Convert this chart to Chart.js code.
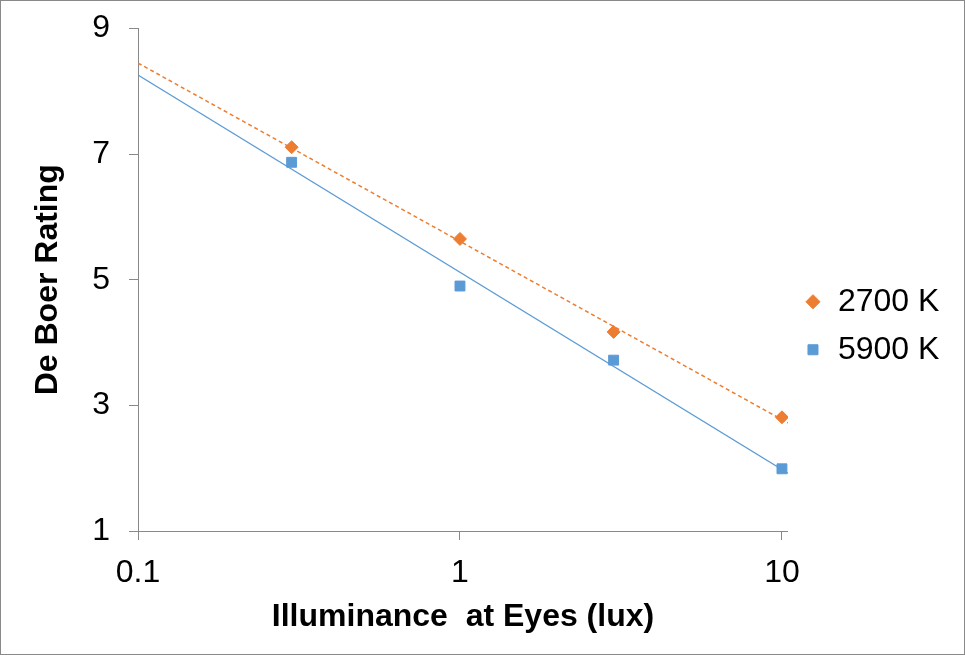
<!DOCTYPE html>
<html>
<head>
<meta charset="utf-8">
<script src="https://cdn.jsdelivr.net/npm/chart.js@4/dist/chart.umd.min.js"></script>
<style>
  html, body { margin: 0; padding: 0; background: #fff; }
  #box { width: 965px; height: 655px; border: 1px solid #898989; box-sizing: border-box; }
</style>
</head>
<body>
<div id="box"><canvas id="myChart"></canvas></div>
<script>
// illuminance (lux) and De Boer ratings
let illuminance = [0.3, 1, 3, 10];
let rating2700 = [7.11, 5.65, 4.17, 2.81];
let rating5900 = [6.87, 4.90, 3.72, 1.99];

// log trendlines, ends read at the plot edges
let trendX = [0.1, 10.44];
let trend2700 = [8.45, 2.72];
let trend5900 = [8.26, 1.92];

let xTicks = [0.1, 1, 10];
let yTicks = [1, 3, 5, 7, 9];

let orange = "#ED7D31";
let blue = "#5B9BD5";
let axisGray = "#898989";
let fontName = "'Liberation Sans', Arial, sans-serif";

function toPoints(xs, ys) {
    let pts = [];
    for (let i = 0; i < xs.length; i++) {
        pts.push({ x: xs[i], y: ys[i] });
    }
    return pts;
}

Chart.defaults.color = "#000";
Chart.defaults.font.family = fontName;

let ctx = document.getElementById("myChart").getContext("2d");

let myChart = new Chart(ctx, {
    type: "scatter",
    data: {
        datasets: [
            {
                label: "2700 K",
                data: toPoints(illuminance, rating2700),
                pointStyle: "rectRot",
                pointRadius: 6.5,
                pointHoverRadius: 6.5,
                backgroundColor: orange,
                borderColor: orange,
                pointBorderWidth: 1,
                borderWidth: 1,
                order: 1
            },
            {
                label: "5900 K",
                data: toPoints(illuminance, rating5900),
                pointStyle: "rect",
                pointRadius: 7,
                pointHoverRadius: 7,
                backgroundColor: blue,
                borderColor: blue,
                pointBorderWidth: 1,
                borderWidth: 1,
                order: 1
            },
            {
                label: "trend 2700",
                data: toPoints(trendX, trend2700),
                showLine: true,
                pointRadius: 0,
                borderColor: orange,
                borderWidth: 1.5,
                borderDash: [4, 3],
                order: 2
            },
            {
                label: "trend 5900",
                data: toPoints(trendX, trend5900),
                showLine: true,
                pointRadius: 0,
                borderColor: blue,
                borderWidth: 1.2,
                order: 2
            }
        ]
    },
    options: {
        responsive: true,
        maintainAspectRatio: false,
        animation: false,
        layout: {
            padding: { top: 27.5, left: 28, right: 14.6, bottom: 31 }
        },
        plugins: {
            tooltip: { enabled: false },
            legend: {
                position: "right",
                labels: {
                    usePointStyle: true,
                    boxWidth: 18,
                    boxHeight: 10,
                    padding: 16,
                    font: { size: 32 },
                    filter: function (item) {
                        return item.datasetIndex < 2;
                    }
                }
            }
        },
        scales: {
            x: {
                type: "logarithmic",
                min: 0.1,
                max: 10.44,
                afterBuildTicks: function (axis) {
                    axis.ticks = xTicks.map(function (v) { return { value: v }; });
                },
                afterFit: function (axis) {
                    axis.height = 92;
                },
                ticks: {
                    padding: 14,
                    maxRotation: 0,
                    autoSkip: false,
                    font: { size: 32 },
                    callback: function (value) { return String(value); }
                },
                grid: {
                    drawOnChartArea: false,
                    drawTicks: true,
                    tickLength: 9,
                    color: axisGray
                },
                border: { display: true, color: axisGray, width: 1 },
                title: {
                    display: true,
                    text: "Illuminance  at Eyes (lux)",
                    font: { size: 32, weight: "bold" },
                    padding: { top: 0, bottom: -13 }
                }
            },
            y: {
                min: 1,
                max: 9,
                afterBuildTicks: function (axis) {
                    axis.ticks = yTicks.map(function (v) { return { value: v }; });
                },
                afterFit: function (axis) {
                    axis.width = 109;
                    // the label padding would otherwise push the plot down
                    axis.paddingTop = 10;
                    axis.paddingBottom = 10;
                },
                ticks: {
                    padding: 19,
                    font: { size: 32 }
                },
                grid: {
                    drawOnChartArea: false,
                    drawTicks: true,
                    tickLength: 9,
                    color: axisGray
                },
                border: { display: true, color: axisGray, width: 1 },
                title: {
                    display: true,
                    text: "De Boer Rating",
                    font: { size: 32, weight: "bold" },
                    padding: 0
                }
            }
        }
    }
});
</script>
</body>
</html>
